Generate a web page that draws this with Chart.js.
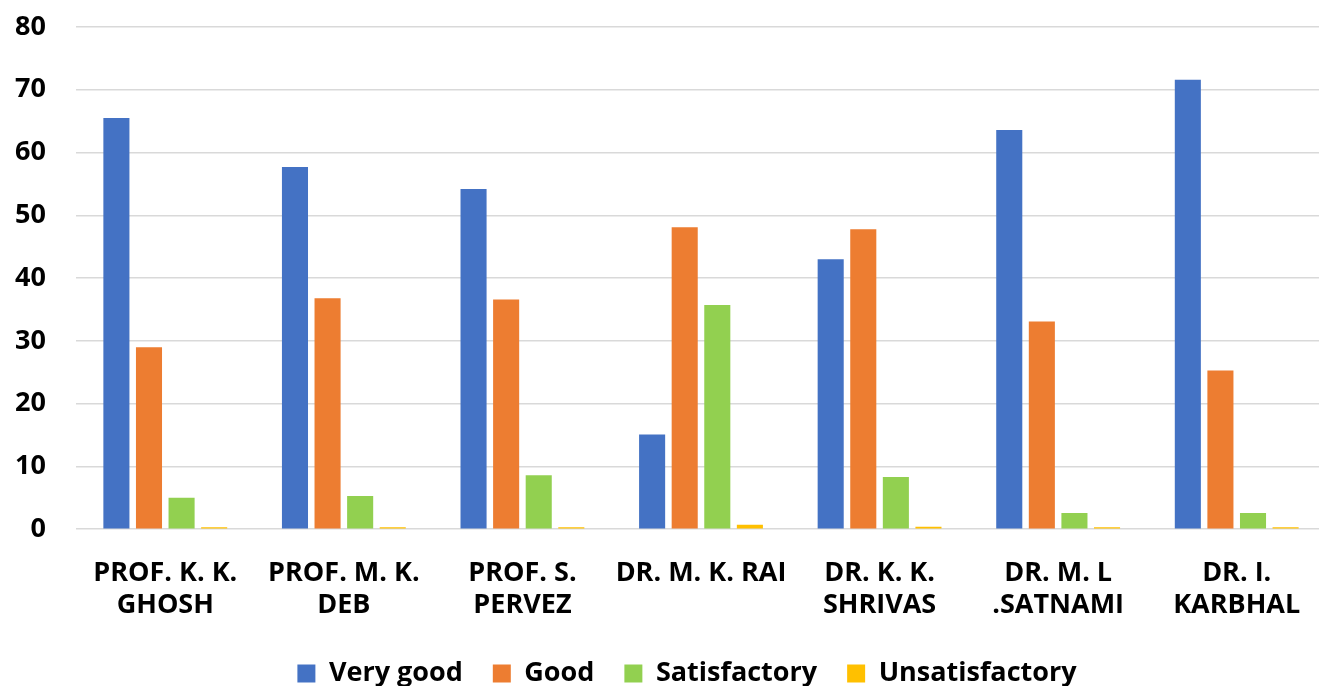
<!DOCTYPE html>
<html>
<head>
<meta charset="utf-8">
<script src="https://cdn.jsdelivr.net/npm/chart.js@4/dist/chart.umd.min.js"></script>
<style>
  html, body { margin: 0; padding: 0; background: #fff; overflow: hidden; }
  .wrap { width: 1326px; height: 686px; }
</style>
</head>
<body>
<div class="wrap"><canvas id="myChart" width="1326" height="686"></canvas></div>
<script>
// data
var teachers = [
  ['PROF. K. K.', 'GHOSH'],
  ['PROF. M. K.', 'DEB'],
  ['PROF. S.', 'PERVEZ'],
  ['DR. M. K. RAI'],
  ['DR. K. K.', 'SHRIVAS'],
  ['DR. M. L', '.SATNAMI'],
  ['DR. I.', 'KARBHAL']
];
var veryGood = [65.5, 57.7, 54.2, 15.1, 43.0, 63.6, 71.6];
var good = [29.0, 36.8, 36.6, 48.1, 47.8, 33.1, 25.3];
var satisfactory = [5.0, 5.3, 8.6, 35.7, 8.3, 2.6, 2.6];
var unsatisfactory = [0.3, 0.3, 0.3, 0.7, 0.4, 0.3, 0.3];
var yTicks = [0, 10, 20, 30, 40, 50, 60, 70, 80];

Chart.defaults.font.family = "'Open Sans', sans-serif";
Chart.defaults.font.weight = 'bold';
Chart.defaults.color = '#000';

// legend sits a little right of centre in the original
const legendShift = {
  id: 'legendShift',
  afterLayout: function (chart) {
    chart.legend.left += 48;
  }
};

const ctx = document.getElementById('myChart');

new Chart(ctx, {
  type: 'bar',
  data: {
    labels: teachers,
    datasets: [
      { label: 'Very good', data: veryGood, backgroundColor: '#4472C4' },
      { label: 'Good', data: good, backgroundColor: '#ED7D31' },
      { label: 'Satisfactory', data: satisfactory, backgroundColor: '#92D050' },
      { label: 'Unsatisfactory', data: unsatisfactory, backgroundColor: '#FFC000' }
    ]
  },
  plugins: [legendShift],
  options: {
    responsive: false,
    animation: false,
    layout: { padding: { top: 27, left: 0, right: 0, bottom: -11 } },
    datasets: {
      bar: { categoryPercentage: 0.73, barPercentage: 0.8 }
    },
    plugins: {
      tooltip: { enabled: false },
      legend: {
        position: 'bottom',
        labels: {
          font: { size: 27, weight: 'bold' },
          boxWidth: 18,
          boxHeight: 18,
          padding: 30
        }
      }
    },
    scales: {
      x: {
        grid: { display: false },
        border: { display: false },
        afterFit: function (axis) {
          axis.height -= 12;
        },
        ticks: {
          font: { size: 27, weight: 'bold' },
          padding: 20,
          maxRotation: 0,
          autoSkip: false
        }
      },
      y: {
        min: 0,
        max: 80,
        afterBuildTicks: function (axis) {
          axis.ticks = yTicks.map(function (v) { return { value: v }; });
        },
        afterFit: function (axis) {
          axis.width = 76;
          axis.paddingTop = 0;
          axis.paddingBottom = 0;
        },
        grid: { color: '#d9d9d9', lineWidth: 1.5, drawTicks: false },
        border: { display: false },
        ticks: {
          font: { size: 27, weight: 'bold' },
          padding: 30
        }
      }
    }
  }
});
</script>
</body>
</html>
